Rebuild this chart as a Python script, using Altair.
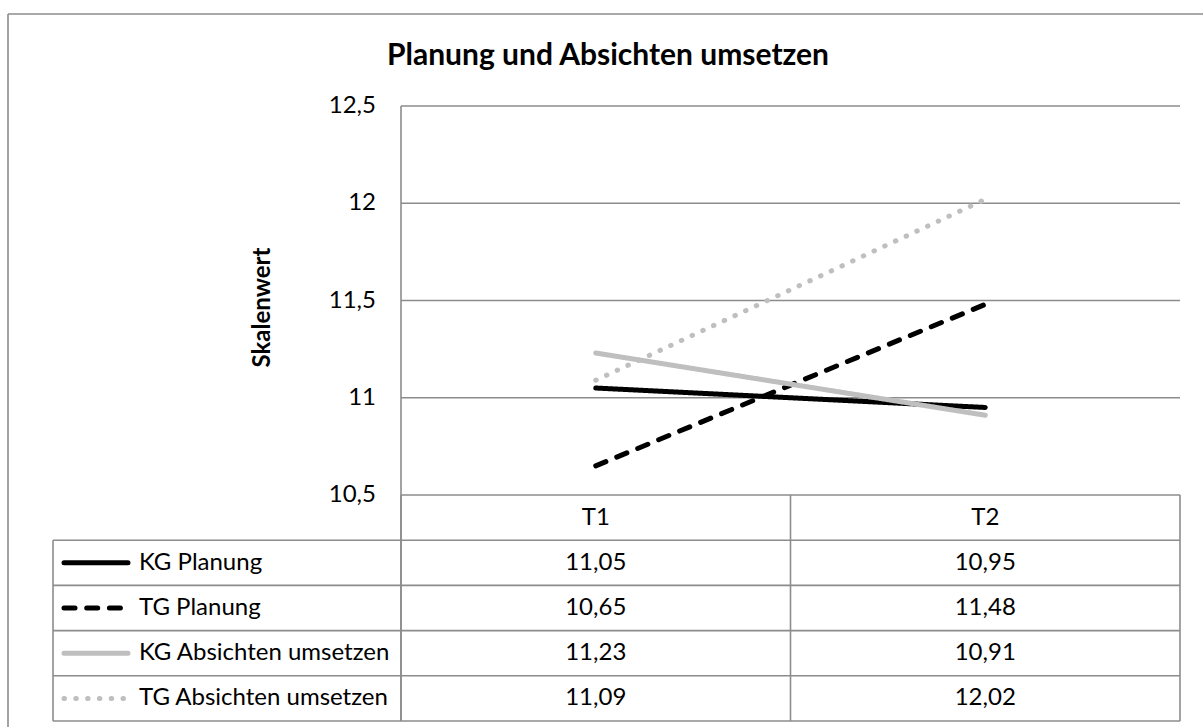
import altair as alt
import pandas as pd

# ---- data -------------------------------------------------------------
series = ["KG Planung", "TG Planung", "KG Absichten umsetzen", "TG Absichten umsetzen"]
times = ["T1", "T2"]
t1_values = [11.05, 10.65, 11.23, 11.09]
t2_values = [10.95, 11.48, 10.91, 12.02]
y_ticks = [10.5, 11.0, 11.5, 12.0, 12.5]

title_text = "Planung und Absichten umsetzen"
y_title = "Skalenwert"

# ---- styles -----------------------------------------------------------
series_colors = ["#000000", "#000000", "#bfbfbf", "#bfbfbf"]
series_dashes = [[1, 0], [11, 11.7], [1, 0], [0.5, 11.3]]
LINE_W = 5
GRID = "#8c8c8c"
FONT = "Lato"
FS = 24

# layout (pixels inside the plot group)
W, H = 1127, 615
LEG_W = 348          # width of the legend column of the data table
PLOT_H = 389         # height of the line plot above the table

long_rows = []
for s, a, b in zip(series, t1_values, t2_values):
    long_rows.append({"series": s, "time": "T1", "value": a})
    long_rows.append({"series": s, "time": "T2", "value": b})
df = pd.DataFrame(long_rows)
ticks_df = pd.DataFrame({"tick": y_ticks})
rows_df = pd.DataFrame({"row": series})
times_df = pd.DataFrame({"time": times})

# ---- scales -----------------------------------------------------------
y_val = alt.Scale(domain=[y_ticks[0], y_ticks[-1]], range=[PLOT_H, 0], nice=False, zero=False)
x_point = alt.Scale(type="point", domain=times, range=[LEG_W, W], padding=0.5)
x_band = alt.Scale(type="band", domain=times, range=[LEG_W, W], paddingInner=0, paddingOuter=0)
row_scale = alt.Scale(type="band", domain=["header"] + series, range=[PLOT_H, H],
                      paddingInner=0, paddingOuter=0)

layers = []

# horizontal gridlines of the plot
layers.append(
    alt.Chart(ticks_df).mark_rule(color=GRID, strokeWidth=1.6).encode(
        y=alt.Y("tick:Q", scale=y_val, axis=None),
        x=alt.value(LEG_W), x2=alt.value(W),
    )
)

# y tick labels with decimal comma
layers.append(
    alt.Chart(ticks_df).transform_calculate(
        label="replace(format(datum.tick, '.1~f'), '.', ',')"
    ).mark_text(align="right", baseline="middle", font=FONT, fontSize=FS, color="#000").encode(
        y=alt.Y("tick:Q", scale=y_val, axis=None),
        x=alt.value(323),
        text="label:N",
    )
)

# y axis title
layers.append(
    alt.Chart(pd.DataFrame({"t": [y_title]})).mark_text(
        angle=270, align="center", baseline="middle", font=FONT, fontSize=FS,
        fontWeight="bold", color="#000"
    ).encode(x=alt.value(210), y=alt.value(PLOT_H / 2 + 7), text="t:N")
)

# chart title
layers.append(
    alt.Chart(pd.DataFrame({"t": [title_text]})).mark_text(
        align="center", baseline="alphabetic", font=FONT, fontSize=30,
        fontWeight="bold", color="#000"
    ).encode(x=alt.value(555), y=alt.value(-41), text="t:N")
)

# left edge of the plot, running down through the table
layers.append(
    alt.Chart(times_df.head(1)).mark_rule(color=GRID, strokeWidth=1.6).encode(
        x=alt.value(LEG_W), y=alt.value(0), y2=alt.value(H)
    )
)

# table: horizontal separators (top of each series row, bottom of the last)
layers.append(
    alt.Chart(rows_df).mark_rule(color=GRID, strokeWidth=1.6).encode(
        y=alt.Y("row:N", scale=row_scale, axis=None, bandPosition=0),
        x=alt.value(0), x2=alt.value(W),
    )
)
layers.append(
    alt.Chart(rows_df.tail(1)).mark_rule(color=GRID, strokeWidth=1.6).encode(
        y=alt.Y("row:N", scale=row_scale, axis=None, bandPosition=1),
        x=alt.value(0), x2=alt.value(W),
    )
)
# table: left border of the legend column
layers.append(
    alt.Chart(rows_df.head(1)).mark_rule(color=GRID, strokeWidth=1.6).encode(
        y=alt.Y("row:N", scale=row_scale, axis=None, bandPosition=0),
        y2=alt.value(H), x=alt.value(0),
    )
)
# table: column separators and right border
layers.append(
    alt.Chart(times_df).mark_rule(color=GRID, strokeWidth=1.6).encode(
        x=alt.X("time:N", scale=x_band, axis=None, bandPosition=0),
        y=alt.value(PLOT_H), y2=alt.value(H),
    )
)
layers.append(
    alt.Chart(times_df.tail(1)).mark_rule(color=GRID, strokeWidth=1.6).encode(
        x=alt.X("time:N", scale=x_band, axis=None, bandPosition=1),
        y=alt.value(PLOT_H), y2=alt.value(H),
    )
)

# outer frame of the chart
layers.append(
    alt.Chart(times_df.head(1)).mark_rule(color=GRID, strokeWidth=1.6).encode(
        x=alt.value(-45), y=alt.value(-92), y2=alt.value(H + 20)
    )
)
layers.append(
    alt.Chart(times_df.head(1)).mark_rule(color=GRID, strokeWidth=1.6).encode(
        x=alt.value(-45), x2=alt.value(W + 40), y=alt.value(-92)
    )
)

# header row of the table
layers.append(
    alt.Chart(times_df).transform_calculate(row="'header'").mark_text(
        align="center", baseline="middle", font=FONT, fontSize=FS, color="#000"
    ).encode(
        x=alt.X("time:N", scale=x_band, axis=None, bandPosition=0.5),
        y=alt.Y("row:N", scale=row_scale, axis=None, bandPosition=0.5),
        text="time:N",
    )
)

# table values with decimal comma
layers.append(
    alt.Chart(df).transform_calculate(
        label="replace(format(datum.value, '.2f'), '.', ',')"
    ).mark_text(align="center", baseline="middle", font=FONT, fontSize=FS, color="#000").encode(
        x=alt.X("time:N", scale=x_band, axis=None, bandPosition=0.5),
        y=alt.Y("series:N", scale=row_scale, axis=None, bandPosition=0.5),
        text="label:N",
    )
)

# legend column: series names
layers.append(
    alt.Chart(rows_df).mark_text(
        align="left", baseline="middle", font=FONT, fontSize=FS, color="#000"
    ).encode(
        x=alt.value(86),
        y=alt.Y("row:N", scale=row_scale, axis=None, bandPosition=0.5),
        text="row:N",
    )
)

# one layer per series: the line in the plot and its key in the table
for s, col, dash in zip(series, series_colors, series_dashes):
    layers.append(
        alt.Chart(df[df["series"] == s]).mark_line(
            color=col, strokeDash=dash, strokeWidth=LINE_W, strokeCap="round"
        ).encode(
            x=alt.X("time:N", scale=x_point, axis=None),
            y=alt.Y("value:Q", scale=y_val, axis=None),
        )
    )
    layers.append(
        alt.Chart(pd.DataFrame({"row": [s]})).mark_rule(
            color=col, strokeDash=dash, strokeWidth=LINE_W, strokeCap="round"
        ).encode(
            y=alt.Y("row:N", scale=row_scale, axis=None, bandPosition=0.5),
            x=alt.value(11), x2=alt.value(75),
        )
    )

chart = alt.layer(*layers).resolve_scale(
    x="independent", y="independent"
).properties(
    width=W, height=H,
    autosize=alt.AutoSizeParams(type="none"),
    padding={"left": 53, "top": 106, "right": 23, "bottom": 6},
    background="white",
).configure_view(stroke=None)

chart.save("out.html", embed_options={"renderer": "svg", "actions": False})
